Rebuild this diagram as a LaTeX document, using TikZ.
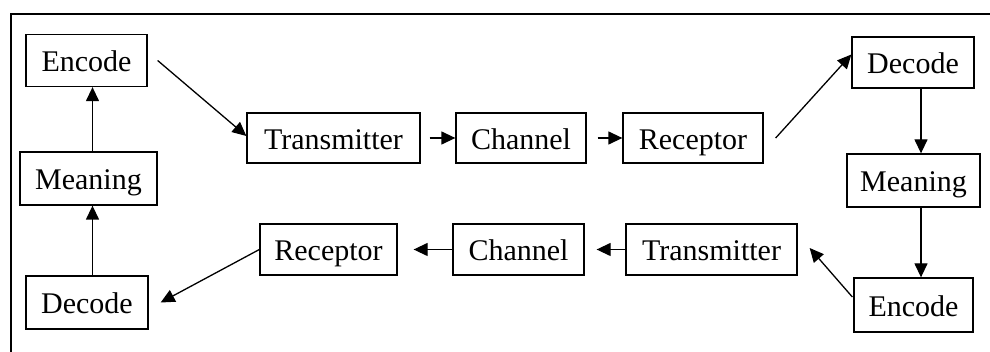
\documentclass[tikz,border=0pt]{standalone}
\usepackage{fontspec}
\setmainfont{Liberation Serif}
\usetikzlibrary{arrows.meta}
\begin{document}
\begin{tikzpicture}[x=1pt,y=-1pt,
  box/.style={draw,line width=1.3pt,inner sep=0pt,minimum height=52pt,
    text height=27pt,text depth=4pt,
    font=\fontsize{30}{36}\selectfont},
  link/.style={line width=1.3pt,-{Triangle[length=14pt,width=13pt]}}]
\clip (0,0) rectangle (990,352);
\useasboundingbox (0,0) rectangle (990,352);
% outer frame
\draw[line width=1.3pt] (11,380) -- (11,14) -- (1010,14);

% upper row
\node[box,minimum width=121pt] (enc1) at (86.5,60.5) {Encode};
\node[box,minimum width=173pt,minimum height=50pt] (trans1) at (333.5,138) {Transmitter};
\node[box,minimum width=130pt,minimum height=50pt] (chan1) at (521,138) {Channel};
\node[box,minimum width=140pt,minimum height=50pt] (rec1) at (693,138) {Receptor};

% right column
\node[box,minimum width=122pt,minimum height=51pt] (dec2) at (913,62.5) {Decode};
\node[box,minimum width=133pt,minimum height=53pt] (mean2) at (913.5,180.5) {Meaning};
\node[box,minimum width=119pt,minimum height=54pt] (enc2) at (913.5,305) {Encode};

% lower row
\node[box,minimum width=171pt,minimum height=51pt] (trans2) at (711.5,249.5) {Transmitter};
\node[box,minimum width=131pt,minimum height=51pt] (chan2) at (518.5,249.5) {Channel};
\node[box,minimum width=137pt,minimum height=51pt] (rec2) at (328.5,249.5) {Receptor};

% left column
\node[box,minimum width=137pt,minimum height=53pt] (mean1) at (88.5,178.5) {Meaning};
\node[box,minimum width=122pt,minimum height=53pt] (dec1) at (87,302.5) {Decode};

% connectors
\draw[link] ([xshift=10pt]enc1.east) -- ([yshift=2pt]trans1.west);
\draw[link] ([xshift=9pt]trans1.east) -- (chan1.west);
\draw[link] ([xshift=11pt]chan1.east) -- (rec1.west);
\draw[link] ([xshift=12pt]rec1.east) -- ([yshift=8pt]dec2.west);
\draw[link] ([xshift=8pt]dec2.south) -- ([xshift=7.5pt]mean2.north);
\draw[link] ([xshift=7.5pt]mean2.south) -- ([xshift=7.5pt]enc2.north);
\draw[link] ([yshift=8pt,xshift=-1pt]enc2.west) -- ([xshift=12pt,yshift=1.5pt]trans2.east);
\draw[link] (trans2.west) -- ([xshift=12pt]chan2.east);
\draw[link] (chan2.west) -- ([xshift=16pt]rec2.east);
\draw[link] (rec2.west) -- ([xshift=12pt]dec1.east);
\draw[link] ([xshift=5.5pt]dec1.north) -- ([xshift=4pt]mean1.north |- mean1.south);
\draw[link] ([xshift=4pt]mean1.north) -- ([xshift=6pt]enc1.south);
\end{tikzpicture}
\end{document}
